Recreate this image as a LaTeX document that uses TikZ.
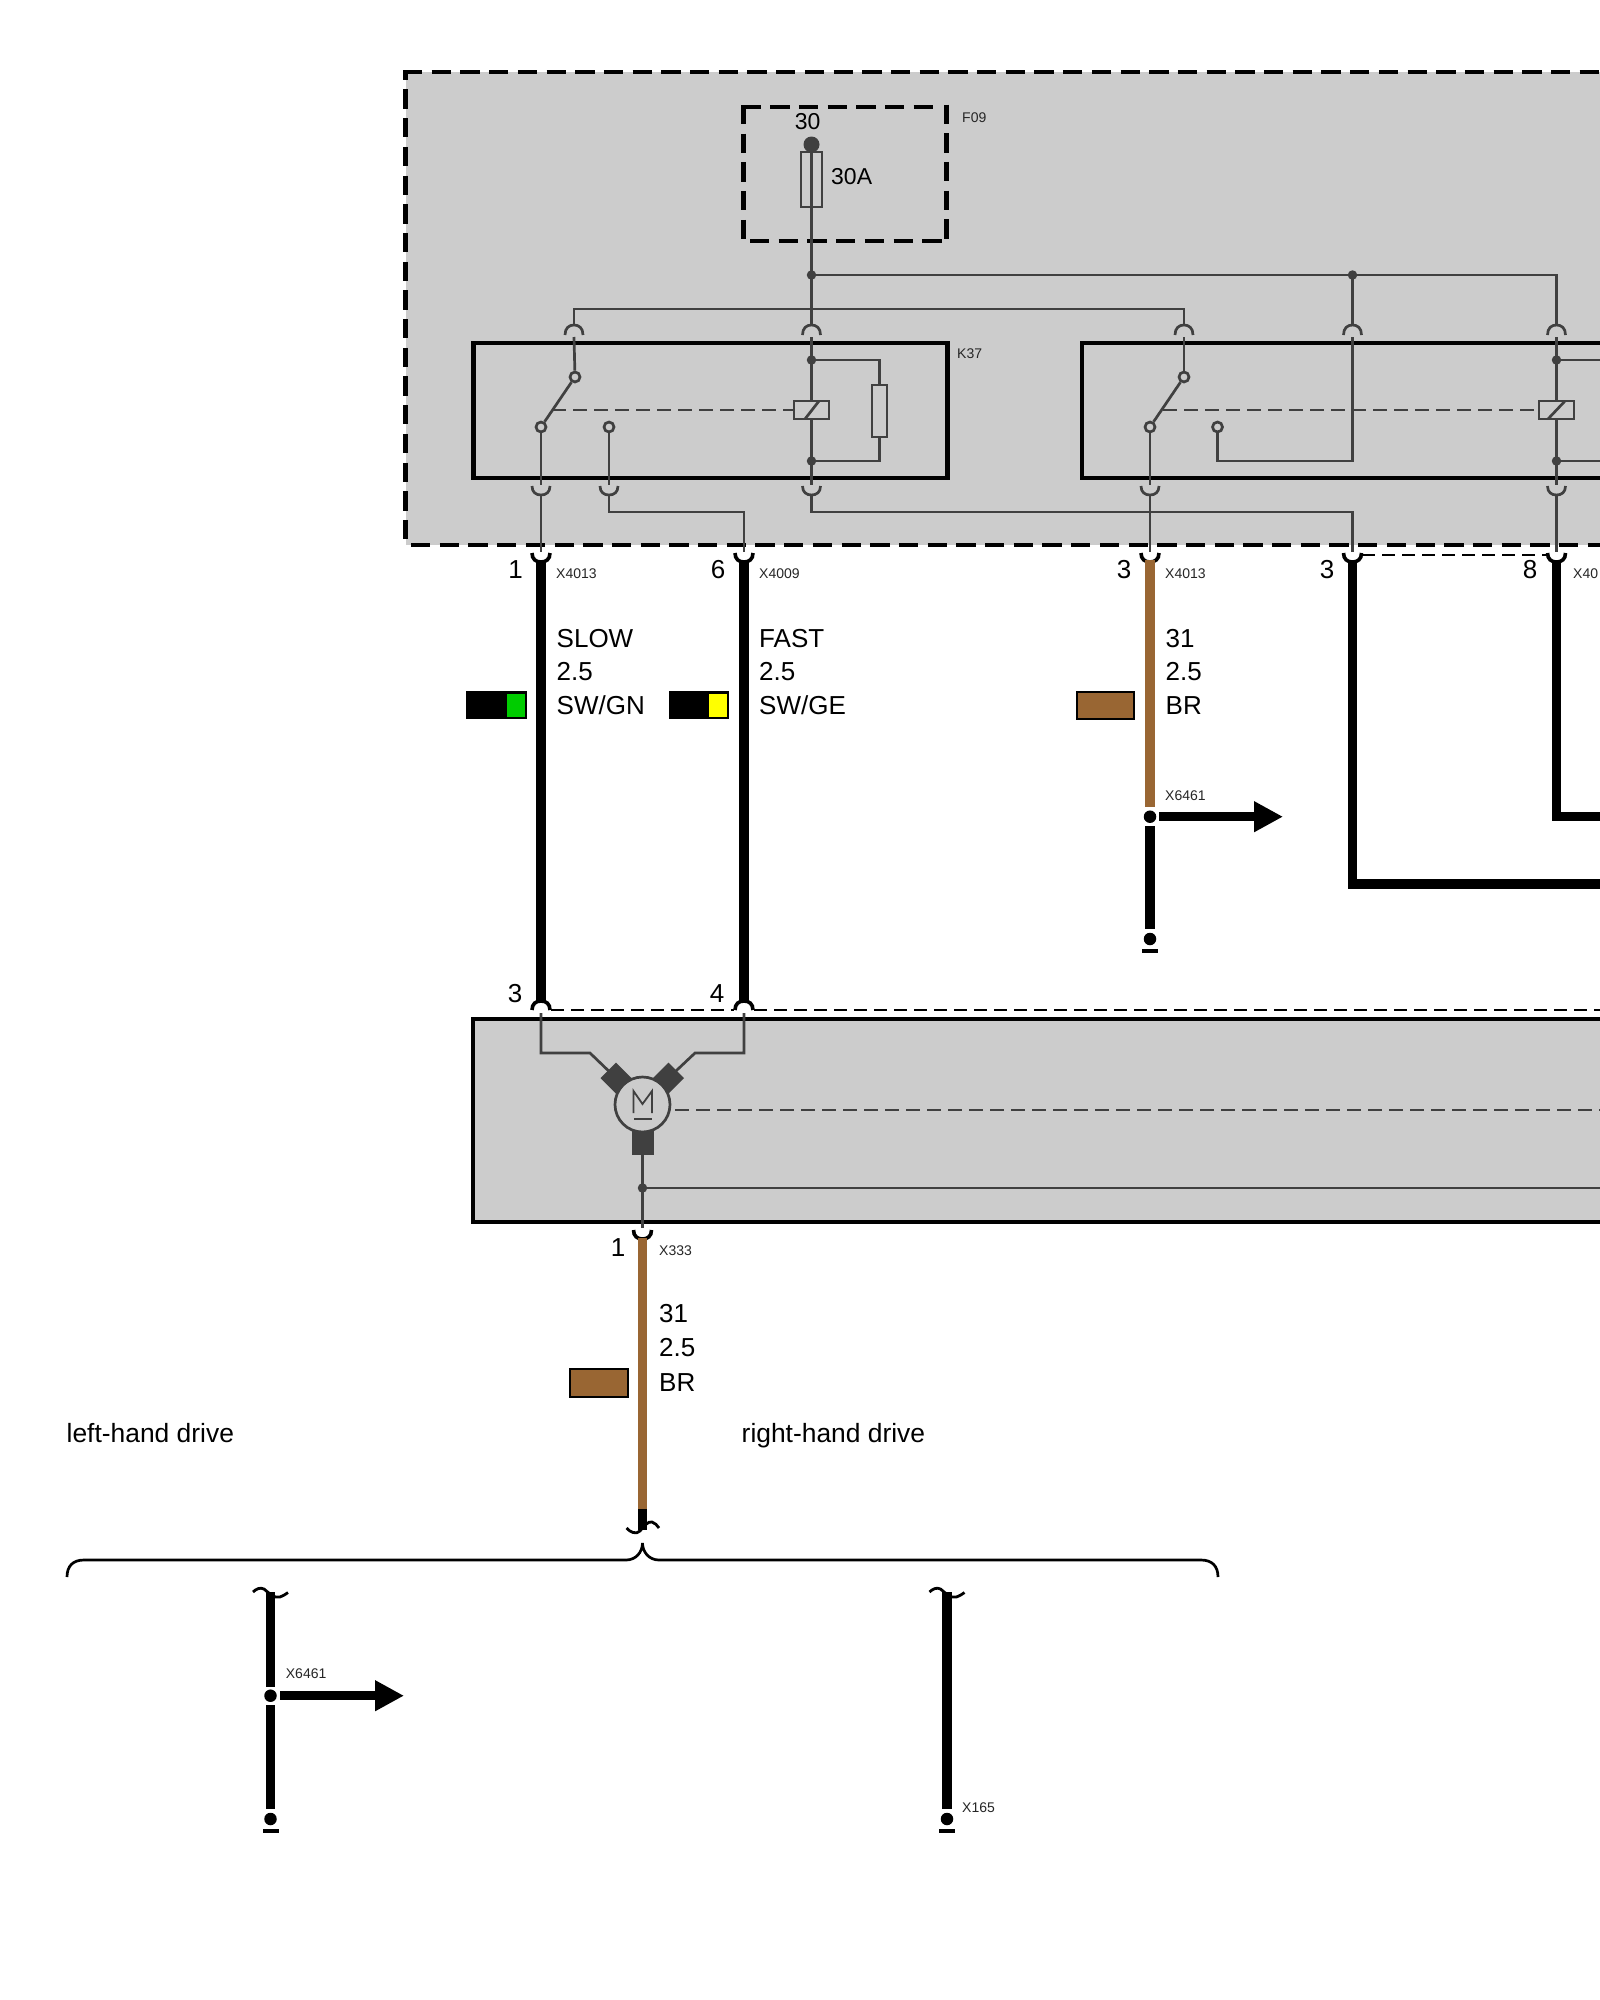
\documentclass[tikz,border=0pt]{standalone}
\usepackage{fontspec}
\setmainfont{Liberation Sans}
\usetikzlibrary{arrows.meta}
\definecolor{panel}{HTML}{CCCCCC}
\definecolor{ink}{HTML}{404040}
\definecolor{brownwire}{HTML}{996633}
\definecolor{swgreen}{HTML}{00CC00}
\definecolor{swyellow}{HTML}{FFFF00}
\tikzset{
  thinwire/.style={draw=ink,line width=2.7pt,line join=miter},
  ctrldash/.style={draw=ink,line width=2.7pt,dash pattern=on 14pt off 7pt},
  heavywire/.style={draw=black,line width=9.5pt,line join=miter},
  brownw/.style={draw=brownwire,line width=9.5pt},
  housing/.style={draw=black,line width=4.7pt,dash pattern=on 19.3pt off 9.4pt},
  solidbox/.style={draw=black,line width=4.7pt},
  linkdash/.style={draw=black,line width=2.2pt,dash pattern=on 13pt off 7pt},
  plug/.style={draw=black,line width=3.6pt},
  socket/.style={draw=ink,line width=2.7pt},
  bigtxt/.style={inner sep=0pt,font=\fontsize{26}{28}\selectfont,text=black},
  fusetxt/.style={inner sep=0pt,font=\fontsize{23}{26}\selectfont,text=black},
  drivetxt/.style={inner sep=0pt,font=\fontsize{26.4}{28}\selectfont,text=black},
  smalltxt/.style={inner sep=0pt,font=\fontsize{14}{16}\selectfont,text=black!85},
  jdot/.style={circle,fill=ink,inner sep=0pt,minimum size=9.5pt},
  contact/.style={circle,draw=ink,line width=2.7pt,fill=panel,inner sep=0pt,minimum size=10pt},
  blackdot/.style={circle,fill=black,inner sep=0pt,minimum size=12.5pt},
  swatchbox/.style={draw=black,line width=2pt},
}
% text placed by the vertical centre of its capitals
\newcommand\bigL[4]{\node[bigtxt,anchor=base west] (#1) at (#2,{#3+9}) {#4};}
\newcommand\bigC[4]{\node[bigtxt,anchor=base] (#1) at (#2,{#3+9}) {#4};}
\newcommand\smallL[4]{\node[smalltxt,anchor=base west] (#1) at (#2,{#3+5}) {#4};}
% curved contact: y0 = open end, y1 = closed end
\newcommand\curl[4]{\draw[#1] ({#2-9},#3) .. controls ({#2-9},{#3+0.7*(#4-#3)}) and ({#2-5},#4) .. (#2,#4) .. controls ({#2+5},#4) and ({#2+9},{#3+0.7*(#4-#3)}) .. ({#2+9},#3);}
\begin{document}
\begin{tikzpicture}[x=1pt,y=-1pt]
\useasboundingbox (0,0) rectangle (1600,2000);
\fill[white] (0,0) rectangle (1600,2000);

% ---------- fuse/relay housing
\fill[panel] (405.5,72) rectangle (1600,545);
\draw[housing] (403,72) -- (1600,72);
\draw[housing,dash phase=11.3pt] (405.5,72) -- (405.5,545);
\draw[housing] (411,545) -- (1600,545);

% named points
\coordinate (feed) at (811.5,144.5);
\coordinate (j1) at (811.5,275);
\coordinate (j2) at (1352.5,275);
\coordinate (e1) at (1556.5,275);
\coordinate (a1) at (574,309);
\coordinate (a2) at (1184,309);

% ---------- fuse box
\draw[housing] (741.5,107) -- (938,107);
\draw[housing] (743.5,105) -- (743.5,240);
\draw[housing] (946.5,104.5) -- (946.5,240);
\draw[housing] (750,241) -- (942,241);
\smallL{f09}{962}{117}{F09}
\node[fusetxt,anchor=base] (t30) at (807.7,129) {30};
\node[fusetxt,anchor=base west] (t30a) at (831,184) {30A};
\node[smalltxt,draw=ink,line width=2.7pt,minimum width=21pt,minimum height=55pt,anchor=center] (fuse) at (811.5,179.5) {};
\draw[thinwire] (feed) -- (j1) -- (811.5,325);
\node[circle,fill=ink,inner sep=0pt,minimum size=16pt] (feeddot) at (feed) {};

% ---------- distribution
\draw[thinwire] (j1) -- (j2) -- (e1) -- (1556.5,325);
\draw[thinwire] (j2) -- (1352.5,325);
\draw[thinwire] (574,325) -- (a1) -- (a2) -- (1184,325);
\node[jdot] (dj1) at (j1) {};
\node[jdot] (dj2) at (j2) {};
\curl{socket}{574}{335}{325}
\curl{socket}{811.5}{335}{325}
\curl{socket}{1184}{335}{325}
\curl{socket}{1352.5}{335}{325}
\curl{socket}{1556.5}{335}{325}

% ---------- relay K37
\node[solidbox,fill=none,inner sep=0pt,minimum width=474pt,minimum height=135pt] (k37) at (710.5,410.5) {};
\smallL{k37t}{957}{353}{K37}
\node[contact] (c1a) at (575,377) {};
\node[contact] (c1b) at (541,427) {};
\node[contact] (c1c) at (609,427) {};
\draw[thinwire] (574,337) -- (c1a);
\draw[thinwire] (c1a) -- (c1b);
\draw[thinwire] (c1b) -- (541,485);
\draw[thinwire] (c1c) -- (609,485);
\draw[ctrldash] (552,410) -- (794,410);
\draw[thinwire] (811.5,337) -- (811.5,485);
\fill[panel] (794,401) rectangle (829,419);
\draw[thinwire] (794,401) rectangle (829,419);
\draw[thinwire] (805,419) -- (819,401);
\node[jdot] (k1t) at (811.5,360) {};
\node[jdot] (k1b) at (811.5,461) {};
\node[draw=ink,line width=2.7pt,inner sep=0pt,minimum width=15pt,minimum height=52pt] (r1) at (879.5,411) {};
\draw[thinwire] (k1t) -- (879.5,360) -- (r1.north);
\draw[thinwire] (r1.south) -- (879.5,461) -- (k1b);
\curl{socket}{541}{486}{495}
\curl{socket}{609}{486}{495}
\curl{socket}{811.5}{486}{495}
\draw[thinwire] (541,495) -- (541,552);
\draw[thinwire] (609,495) -- (609,512) -- (744,512) -- (744,552);
\draw[thinwire] (811.5,495) -- (811.5,512) -- (1352.5,512) -- (1352.5,552);

% ---------- second relay
\draw[solidbox] (1600,343) -- (1082,343) -- (1082,478) -- (1600,478);
\node[contact] (c2a) at (1184,377) {};
\node[contact] (c2b) at (1150,427) {};
\node[contact] (c2c) at (1217.5,427) {};
\draw[thinwire] (1184,337) -- (c2a);
\draw[thinwire] (c2a) -- (c2b);
\draw[thinwire] (c2b) -- (1150,485);
\draw[thinwire] (c2c) -- (1217.5,461) -- (1352.5,461) -- (1352.5,337);
\draw[ctrldash] (1163,410) -- (1539,410);
\draw[thinwire] (1556.5,337) -- (1556.5,485);
\fill[panel] (1539,401) rectangle (1574,419);
\draw[thinwire] (1539,401) rectangle (1574,419);
\draw[thinwire] (1548,419) -- (1565,401);
\node[jdot] (k2t) at (1556.5,360) {};
\node[jdot] (k2b) at (1556.5,461) {};
\draw[thinwire] (k2t) -- (1600,360);
\draw[thinwire] (k2b) -- (1600,461);
\curl{socket}{1150}{486}{495}
\curl{socket}{1556.5}{486}{495}
\draw[thinwire] (1150,495) -- (1150,552);
\draw[thinwire] (1556.5,495) -- (1556.5,552);

% ---------- heavy wires from the housing
\draw[heavywire] (541,560) -- (541,1003);
\draw[heavywire] (744,560) -- (744,1003);
\curl{plug}{541}{553}{562}
\curl{plug}{744}{553}{562}
\curl{plug}{1150}{553}{562}
\curl{plug}{1352.5}{553}{562}
\curl{plug}{1556.5}{553}{562}
\draw[linkdash] (1362,555) -- (1547,555);

\bigC{p1}{515.5}{569}{1}
\smallL{xa}{556}{573}{X4013}
\bigC{p6}{718}{569}{6}
\smallL{xb}{759}{573}{X4009}
\bigC{p3a}{1124}{569}{3}
\smallL{xc}{1165}{573}{X4013}
\bigC{p3b}{1327}{569}{3}
\bigC{p8}{1530}{569}{8}
\smallL{xd}{1573}{573}{X40}

\bigL{w1a}{556.5}{638}{SLOW}
\bigL{w1b}{556.5}{671.5}{2.5}
\bigL{w1c}{556.5}{705}{SW/GN}
\bigL{w2a}{759}{638}{FAST}
\bigL{w2b}{759}{671.5}{2.5}
\bigL{w2c}{759}{705}{SW/GE}
\bigL{w3a}{1165.5}{638}{31}
\bigL{w3b}{1165.5}{671.5}{2.5}
\bigL{w3c}{1165.5}{705}{BR}

% swatches
\fill[black] (466,691) rectangle (526.7,719.3);
\fill[swgreen] (506.7,693.5) rectangle (524.7,717);
\fill[black] (669.3,691) rectangle (728.7,719.3);
\fill[swyellow] (709.3,693.5) rectangle (726.5,717);
\draw[swatchbox,fill=brownwire] (1077,692) rectangle (1134,719.3);
\draw[swatchbox,fill=brownwire] (570,1369) rectangle (628,1397);

% brown wire with branch
\coordinate (sp1) at (1150,816.7);
\draw[brownw] (1150,560) -- (1150,807);
\draw[heavywire] (1150,826) -- (1150,929);
\node[blackdot] (sp1d) at (sp1) {};
\smallL{xe}{1165}{795}{X6461}
\coordinate (ar1a) at (1159,816.7);
\coordinate (ar1b) at (1283,816.7);
\draw[line width=9.5pt,-{Triangle[length=29pt,width=29pt]}] (ar1a) -- (ar1b);
\node[blackdot] (g1d) at (1150,939) {};
\fill[black] (1141.7,948.7) rectangle (1158.3,953.3);

% right-hand heavy wires
\draw[heavywire] (1352.5,560) -- (1352.5,884) -- (1600,884);
\draw[heavywire] (1556.5,560) -- (1556.5,816.7) -- (1600,816.7);

% ---------- motor module
\fill[panel] (473,1019) rectangle (1600,1222);
\draw[solidbox] (1600,1019) -- (473,1019) -- (473,1222) -- (1600,1222);
\bigC{p3c}{515}{993}{3}
\bigC{p4}{717}{993}{4}
\curl{plug}{541}{1010}{1001}
\curl{plug}{744}{1010}{1001}
\draw[linkdash] (551,1010) -- (734,1010);
\draw[linkdash] (754,1010) -- (1600,1010);

\coordinate (mc) at (642.5,1104.5);
\draw[thinwire] (541,1013) -- (541,1053) -- (590,1053) -- (616,1078);
\draw[thinwire] (744,1013) -- (744,1053) -- (695,1053) -- (668.5,1078);
\fill[ink] (616,1062.5) -- (631.5,1078) -- (616,1093.5) -- (600.5,1078) -- cycle;
\fill[ink] (668.5,1062.5) -- (684,1078) -- (668.5,1093.5) -- (653,1078) -- cycle;
\fill[ink] (631.5,1120) rectangle (653.5,1155);
\node[circle,draw=ink,line width=2.7pt,fill=panel,inner sep=0pt,minimum size=55pt] (motor) at (mc) {};
\draw[draw=ink,line width=1.8pt] (633.5,1113) -- (633.5,1091) -- (642.5,1104) -- (652,1091) -- (652,1113);
\draw[draw=ink,line width=1.8pt] (634,1119) -- (652,1119);
\draw[ctrldash] (675,1110) -- (1600,1110);
\coordinate (mj) at (642.5,1188);
\draw[thinwire] (642.5,1155) -- (642.5,1228);
\draw[thinwire] (mj) -- (1600,1188);
\node[jdot] (dmj) at (mj) {};

% ---------- wire to ground branches
\curl{plug}{642.5}{1230}{1239}
\smallL{xf}{659}{1250}{X333}
\bigC{p1b}{618}{1247}{1}
\bigL{w4a}{659}{1313}{31}
\bigL{w4b}{659}{1347.5}{2.5}
\bigL{w4c}{659}{1382}{BR}
\draw[brownw] (642.5,1238) -- (642.5,1509);
\draw[heavywire] (642.5,1509) -- (642.5,1530);
\draw[draw=black,line width=2.8pt] (626.5,1528) .. controls (630,1532) and (636,1535) .. (640,1531) .. controls (644,1526) and (648,1521) .. (652,1522) .. controls (655,1523) and (657,1525) .. (659,1528);

\node[drivetxt,anchor=base west] (lhd) at (66.5,1442) {left-hand drive};
\node[drivetxt,anchor=base west] (rhd) at (741.5,1442) {right-hand drive};

% brace
\draw[draw=black,line width=2.7pt] (67,1577) .. controls (67,1566) and (73,1560) .. (84,1560) -- (626,1560) .. controls (636,1560) and (642.5,1552) .. (642.5,1543) .. controls (642.5,1552) and (649,1560) .. (659,1560) -- (1201,1560) .. controls (1212,1560) and (1218,1566) .. (1218,1577);

% ---------- left-hand branch
\coordinate (sp2) at (270.5,1695.7);
\draw[heavywire] (270.5,1592) -- (270.5,1687);
\draw[heavywire] (270.5,1705) -- (270.5,1809);
\draw[draw=black,line width=2.8pt] (253,1592) .. controls (256,1589) and (260,1587) .. (264,1589) .. controls (268,1592) and (274,1599) .. (280,1597) .. controls (283,1596) and (286,1594) .. (288,1592.5);
\node[blackdot] (sp2d) at (sp2) {};
\smallL{xg}{285.7}{1673}{X6461}
\coordinate (ar2a) at (280,1695.7);
\coordinate (ar2b) at (404,1695.7);
\draw[line width=9.5pt,-{Triangle[length=29pt,width=29pt]}] (ar2a) -- (ar2b);
\node[blackdot] (g2d) at (270.5,1819) {};
\fill[black] (262.5,1828.7) rectangle (278.6,1833.3);

% ---------- right-hand branch
\draw[heavywire] (947,1592) -- (947,1809);
\draw[draw=black,line width=2.8pt] (929.5,1592) .. controls (932.5,1589) and (936.5,1587) .. (940.5,1589) .. controls (944.5,1592) and (950.5,1599) .. (956.5,1597) .. controls (959.5,1596) and (962.5,1594) .. (964.5,1592.5);
\node[blackdot] (g3d) at (947,1819) {};
\fill[black] (939,1828.7) rectangle (955,1833.3);
\smallL{xh}{962}{1807}{X165}
\end{tikzpicture}
\end{document}
